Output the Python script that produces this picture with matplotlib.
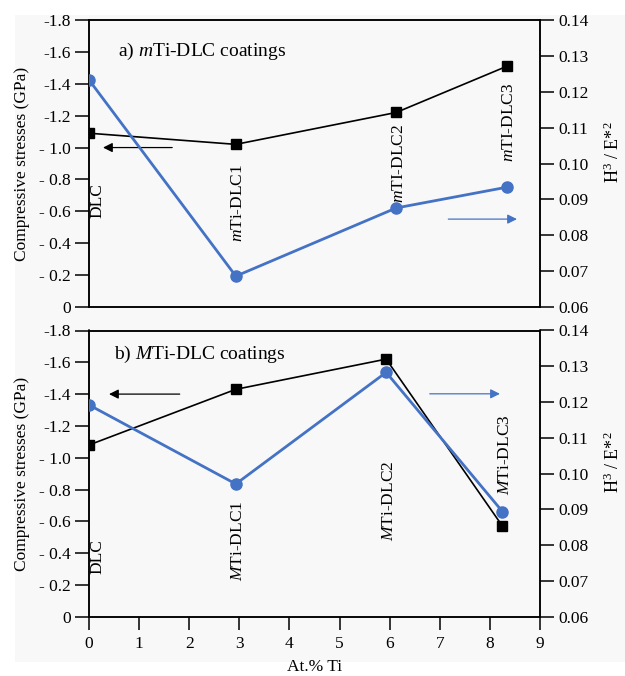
import matplotlib
matplotlib.use("Agg")
import matplotlib.pyplot as plt
from matplotlib.patches import Rectangle

plt.rcParams['font.family'] = ['Liberation Serif', 'DejaVu Serif']
plt.rcParams['mathtext.fontset'] = 'custom'
plt.rcParams['mathtext.rm'] = 'Liberation Serif'
plt.rcParams['mathtext.it'] = 'Liberation Serif:italic'

# ---------------- data ----------------
ti_a = [0.0, 2.93, 6.13, 8.34]
stress_a = [-1.09, -1.02, -1.22, -1.51]
h3e2_a = [0.1233, 0.0686, 0.0876, 0.0934]
labels_a = ["DLC", r"$\it{m}$Ti-DLC1", r"$\it{m}$TI-DLC2", r"$\it{m}$TI-DLC3"]
label_y_a = [-0.67, -0.65, -0.90, -1.16]
title_a = r"a) $\it{m}$Ti-DLC coatings"

ti_b = [0.0, 2.93, 5.93, 8.25]
stress_b = [-1.08, -1.43, -1.62, -0.57]
h3e2_b = [0.1192, 0.0971, 0.1283, 0.0894]
labels_b = ["DLC", r"$\it{M}$Ti-DLC1", r"$\it{M}$Ti-DLC2", r"$\it{M}$Ti-DLC3"]
label_y_b = [-0.38, -0.48, -0.73, -1.02]
title_b = r"b) $\it{M}$Ti-DLC coatings"

stress_ticks = [0, -0.2, -0.4, -0.6, -0.8, -1.0, -1.2, -1.4, -1.6, -1.8]
stress_ticklabels = ["0", "- 0.2", "- 0.4", "- 0.6", "- 0.8", "- 1.0", "-1.2", "-1.4", "-1.6", "-1.8"]
h_ticks = [0.06, 0.07, 0.08, 0.09, 0.10, 0.11, 0.12, 0.13, 0.14]
x_ticks = list(range(0, 10))

BLUE = "#4472C4"

fig = plt.figure(figsize=(6.25, 6.76), dpi=100)
fig.patches.append(Rectangle((15 / 625, 1 - 662 / 676), 610 / 625, 647 / 676,
                             transform=fig.transFigure, facecolor="#f8f8f8",
                             edgecolor="none", zorder=-10))

W = 451 / 625
ax_top = fig.add_axes([89 / 625, 1 - 307 / 676, W, 287 / 676])
ax_bot = fig.add_axes([89 / 625, 1 - 616.7 / 676, W, 286.2 / 676])


def panel(ax, ti, stress, h3, labels, label_y, title, title_pos, arrow_k, arrow_b, show_x):
    ax.set_facecolor("none")
    ax.plot(ti, stress, color="black", lw=1.2, marker="s", ms=7, zorder=3)
    ax.set_xlim(0, 9)
    ax.set_ylim(0, -1.8)
    ax.set_yticks(stress_ticks)
    ax.set_yticklabels(stress_ticklabels)
    ax.text(-0.148, 0.5, "Compressive stresses (GPa)", transform=ax.transAxes,
            rotation=90, ha="center", va="center", fontsize=12.5)
    for s in ax.spines.values():
        s.set_linewidth(1.1)
    ax.tick_params(axis="y", direction="out", length=10, width=1.1, labelsize=12.5, pad=3)
    if show_x:
        ax.set_xticks(x_ticks)
        ax.tick_params(axis="x", direction="out", length=9, width=1.1, labelsize=12.5, pad=5)
        ax.set_xlabel("At.% Ti", fontsize=12.5, labelpad=5)
    else:
        ax.set_xticks([])

    ax2 = ax.twinx()
    ax2.plot(ti, h3, color=BLUE, lw=2, marker="o", ms=8, zorder=3)
    ax2.set_ylim(0.06, 0.14)
    ax2.set_yticks(h_ticks)
    ax2.set_yticklabels([f"{v:.2f}" for v in h_ticks])
    ax2.tick_params(axis="y", direction="out", length=10, width=1.1, labelsize=12.5, pad=3)
    ax2.text(1.163, 0.54, "H$^3$ / E*$^2$", transform=ax2.transAxes, rotation=90,
             ha="center", va="center", fontsize=13)
    for s in ax2.spines.values():
        s.set_linewidth(1.1)

    for x, yl, lab in zip(ti, label_y, labels):
        ax.text(x + (0.16 if x == 0 else 0.05), yl, lab, rotation=90, ha="center", va="center",
                fontsize=12.5)

    ax.text(title_pos[0], title_pos[1], title, transform=ax.transAxes, fontsize=14,
            ha="center", va="center")

    # arrows
    ax.annotate("", xy=(arrow_k[0], arrow_k[2]), xytext=(arrow_k[1], arrow_k[2]),
                arrowprops=dict(arrowstyle="-|>", color="black", lw=0.9,
                                mutation_scale=14, shrinkA=0, shrinkB=0))
    ax2.annotate("", xy=(arrow_b[1], arrow_b[2]), xytext=(arrow_b[0], arrow_b[2]),
                 arrowprops=dict(arrowstyle="-|>", color=BLUE, lw=0.9,
                                 mutation_scale=14, shrinkA=0, shrinkB=0))
    return ax2


panel(ax_top, ti_a, stress_a, h3e2_a, labels_a, label_y_a, title_a, (0.25, 0.889),
      (0.28, 1.66, -1.0), (7.17, 8.54, 0.0845), False)
panel(ax_bot, ti_b, stress_b, h3e2_b, labels_b, label_y_b, title_b, (0.246, 0.918),
      (0.40, 1.81, -1.40), (6.8, 8.2, 0.1223), True)

fig.savefig("out.png", dpi=100)
